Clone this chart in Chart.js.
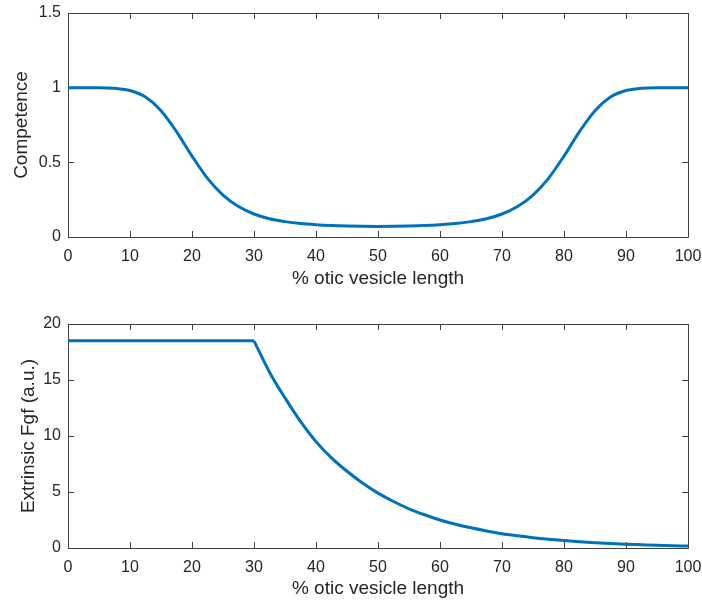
<!DOCTYPE html>
<html lang="en">
<head>
  <title>Competence and extrinsic Fgf</title>
  <script src="https://cdn.jsdelivr.net/npm/chart.js"></script>
</head>

<style>
  body { margin: 0; background: #ffffff; }
  .panel { position: absolute; left: 0; }
</style>

<body>
  <canvas id="top-chart" class="panel" style="top: 0px;" width="702" height="300"></canvas>
  <canvas id="bottom-chart" class="panel" style="top: 300px;" width="702" height="303"></canvas>

  <script>
    // x positions (% otic vesicle length)
    var xCompetence = [0, 2.5, 5, 7.5, 10, 12.5, 15, 17.5, 20, 22.5, 25, 27.5, 30, 32.5, 35, 37.5, 40, 42.5, 45, 47.5, 50,
                       52.5, 55, 57.5, 60, 62.5, 65, 67.5, 70, 72.5, 75, 77.5, 80, 82.5, 85, 87.5, 90, 92.5, 95, 97.5, 100];
    var competence = [1.0, 1.0, 1.0, 0.996, 0.981, 0.937, 0.846, 0.706, 0.542, 0.393, 0.281, 0.204, 0.154, 0.122, 0.103, 0.090, 0.082, 0.0765, 0.0732, 0.0714, 0.071,
                      0.0714, 0.0732, 0.0765, 0.082, 0.090, 0.103, 0.122, 0.154, 0.204, 0.281, 0.393, 0.542, 0.706, 0.846, 0.937, 0.981, 0.996, 1.0, 1.0, 1.0];

    // Fgf: flat part, then decay
    var xFgfFlat = [0, 30];
    var fgfFlat = [18.5, 18.5];
    var xFgfDecay = [30, 32.5, 35, 37.5, 40, 42.5, 45, 47.5, 50, 52.5, 55, 57.5, 60, 62.5, 65, 67.5, 70,
                     72.5, 75, 77.5, 80, 82.5, 85, 87.5, 90, 92.5, 95, 97.5, 100];
    var fgfDecay = [18.5, 15.7, 13.4, 11.3, 9.5, 8.05, 6.85, 5.8, 4.9, 4.15, 3.5, 2.97, 2.5, 2.12, 1.8, 1.52, 1.28,
                    1.09, 0.92, 0.78, 0.66, 0.56, 0.47, 0.40, 0.34, 0.29, 0.24, 0.2, 0.17];

    // tick labels
    var xTicks = [0, 10, 20, 30, 40, 50, 60, 70, 80, 90, 100];
    var yTicksTop = [0, 0.5, 1, 1.5];
    var yTicksBottom = [0, 5, 10, 15, 20];

    var axisColor = '#404040';
    var textColor = '#262626';
    var lineColor = '#0072BD';
    var fontFamily = '"Liberation Sans", Arial, Helvetica, sans-serif';

    // box + inward ticks on all four sides, like MATLAB
    var boxPlugin = {
      id: 'matlabBox',
      beforeDatasetsDraw: function(chart) {
        var ctx = chart.ctx;
        var a = chart.chartArea;
        var xs = chart.scales.x, ys = chart.scales.y;
        var tl = 6;
        ctx.save();
        ctx.strokeStyle = axisColor;
        ctx.lineWidth = 1;
        ctx.beginPath();
        ctx.rect(a.left + 0.5, a.top + 0.5, a.right - a.left, a.bottom - a.top);
        xs.ticks.forEach(function(t) {
          var px = Math.round(xs.getPixelForValue(t.value)) + 0.5;
          ctx.moveTo(px, a.bottom); ctx.lineTo(px, a.bottom - tl);
          ctx.moveTo(px, a.top); ctx.lineTo(px, a.top + tl);
        });
        ys.ticks.forEach(function(t) {
          var py = Math.round(ys.getPixelForValue(t.value)) + 0.5;
          ctx.moveTo(a.left, py); ctx.lineTo(a.left + tl, py);
          ctx.moveTo(a.right, py); ctx.lineTo(a.right - tl, py);
        });
        ctx.stroke();
        ctx.restore();
      }
    };

    function to_points(xs, ys) {
      return xs.map(function(x, i) { return {x: x, y: ys[i]}; });
    }

    function line_dataset(pts, smooth) {
      return {
        data: pts,
        borderColor: lineColor,
        borderWidth: 3,
        pointRadius: 0,
        fill: false,
        cubicInterpolationMode: smooth ? 'monotone' : 'default',
        tension: 0
      };
    }

    function make_chart(id, datasets, yTicks, yMax, yTitle, o) {
      return new Chart(document.getElementById(id), {
        type: 'line',
        data: { datasets: datasets },
        options: {
          responsive: false,
          animation: false,
          devicePixelRatio: 1,
          layout: { padding: { top: o.top, right: 14, left: 0, bottom: 0 } },
          plugins: { legend: { display: false }, tooltip: { enabled: false } },
          scales: {
            x: {
              type: 'linear', min: 0, max: 100,
              afterBuildTicks: function(s) { s.ticks = xTicks.map(function(v) { return {value: v}; }); },
              afterFit: function(s) { s.height = o.xHeight; s.paddingLeft = 0; s.paddingRight = 0; },
              grid: { display: false, drawTicks: false },
              border: { display: false },
              ticks: { color: textColor, font: { family: fontFamily, size: 16 }, padding: 10, maxRotation: 0,
                       callback: function(v) { return String(v); } },
              title: { display: true, text: '% otic vesicle length', color: textColor,
                       font: { family: fontFamily, size: 19 }, padding: { top: o.xTitlePad, bottom: o.xTitlePad } }
            },
            y: {
              type: 'linear', min: 0, max: yMax,
              afterBuildTicks: function(s) { s.ticks = yTicks.map(function(v) { return {value: v}; }); },
              afterFit: function(s) { s.width = 68; s.paddingTop = 0; s.paddingBottom = 0; },
              grid: { display: false, drawTicks: false },
              border: { display: false },
              ticks: { color: textColor, font: { family: fontFamily, size: 16 }, padding: 7,
                       callback: function(v) { return String(v); } },
              title: { display: true, text: yTitle, color: textColor,
                       font: { family: fontFamily, size: 19 }, padding: { top: o.yTitlePad, bottom: o.yTitlePad } }
            }
          }
        },
        plugins: [boxPlugin]
      });
    }

    make_chart('top-chart',
               [line_dataset(to_points(xCompetence, competence), true)],
               yTicksTop, 1.5, 'Competence',
               { top: 13, xHeight: 63, xTitlePad: 10, yTitlePad: 10.6 });
    make_chart('bottom-chart',
               [line_dataset(to_points(xFgfFlat, fgfFlat), false),
                line_dataset(to_points(xFgfDecay, fgfDecay), true)],
               yTicksBottom, 20, 'Extrinsic Fgf (a.u.)',
               { top: 24, xHeight: 55, xTitlePad: 2.6, yTitlePad: 17 });
  </script>
</body>

</html>
